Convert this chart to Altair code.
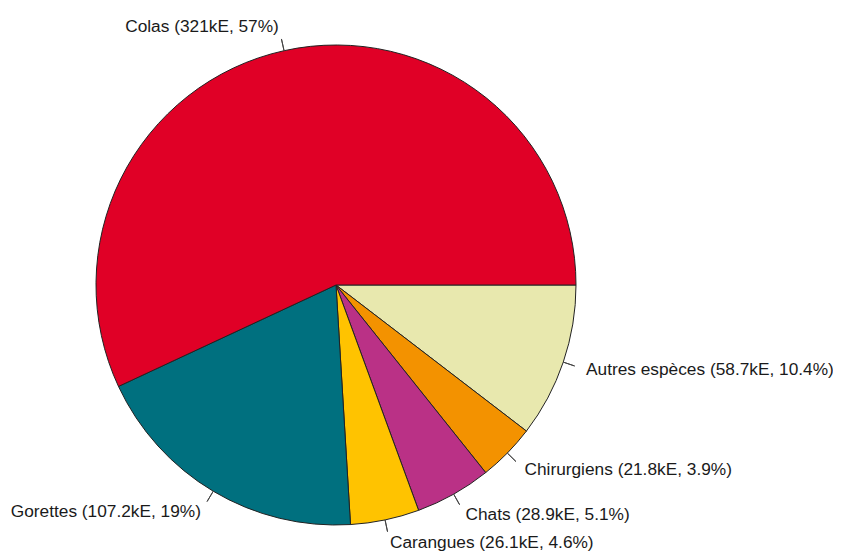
import math
import altair as alt
import pandas as pd

# Data (order = R pie order, counterclockwise from 3 o'clock)
species = ["Colas", "Gorettes", "Carangues", "Chats", "Chirurgiens", "Autres espèces"]
values_kE = [321.0, 107.2, 26.1, 28.9, 21.8, 58.7]
labels = ["Colas (321kE, 57%)", "Gorettes (107.2kE, 19%)", "Carangues (26.1kE, 4.6%)",
          "Chats (28.9kE, 5.1%)", "Chirurgiens (21.8kE, 3.9%)", "Autres espèces (58.7kE, 10.4%)"]
colors = ["#E00026", "#00707F", "#FFC300", "#BA3186", "#F39200", "#E8E8AE"]

total = sum(values_kE)
# R draws counterclockwise from 3 o'clock; Vega draws clockwise from 12 o'clock.
rows = []
cum = 0.0
for s, v, l, c in reversed(list(zip(species, values_kE, labels, colors))):
    start = cum
    end = cum + v
    mid = (start + end) / 2
    ang = math.pi / 2 + 2 * math.pi * mid / total  # vega angle (0 = up, clockwise)
    side = "right" if math.sin(ang) >= 0 else "left"
    rows.append(dict(species=s, value=v, label=l, color=c, start=start, end=end, mid=mid, side=side))
    cum = end
df = pd.DataFrame(rows)

theta_scale = alt.Scale(domain=[0, total], range=[math.pi / 2, math.pi / 2 + 2 * math.pi])
CX, CY = 328, 277
R = 240

base = alt.Chart(df)

pie = base.mark_arc(stroke="#222222", strokeWidth=1, radius=R).encode(
    theta=alt.Theta("start:Q", scale=theta_scale),
    theta2="end:Q",
    color=alt.Color("color:N", scale=None),
    x=alt.value(CX), y=alt.value(CY),
)

ticks = base.mark_arc(stroke="#444444", strokeWidth=1, fillOpacity=0, radius=R, radius2=R * 1.05).encode(
    theta=alt.Theta("mid:Q", scale=theta_scale),
    theta2="mid:Q",
    x=alt.value(CX), y=alt.value(CY),
)

def text_layer(side, align):
    return base.transform_filter(alt.datum.side == side).mark_text(
        align=align, baseline="middle", font="Liberation Sans", fontSize=17.3,
        color="#1a1a1a", radius=R * 1.1,
    ).encode(
        theta=alt.Theta("mid:Q", scale=theta_scale),
        text="label:N",
        x=alt.value(CX), y=alt.value(CY),
    )

chart = alt.layer(pie, ticks, text_layer("right", "left"), text_layer("left", "right")).properties(
    width=825, height=544, autosize=alt.AutoSizeParams(type="none"), padding=0,
).configure_view(stroke=None)

chart.save("out.html", embed_options={"renderer": "svg", "actions": False})
